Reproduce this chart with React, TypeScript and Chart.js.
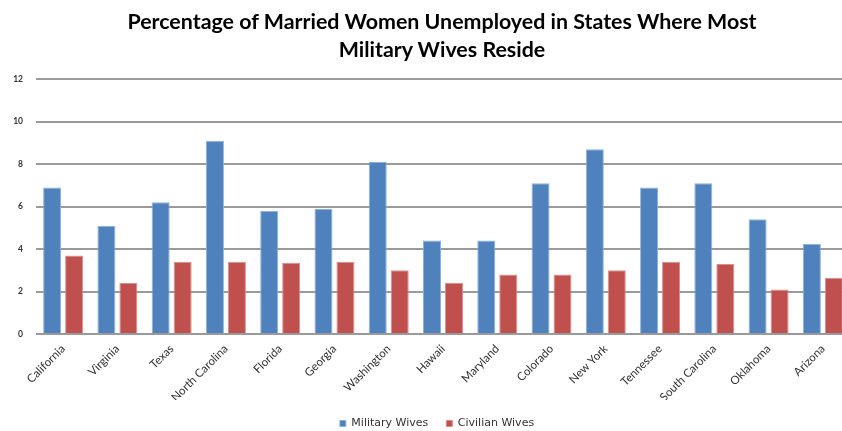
import React, { useEffect, useRef } from "react";
import { Chart, registerables } from "chart.js";

Chart.register(...registerables);

const TITLE_LINES = [
  "Percentage of Married Women Unemployed in States Where Most",
  "Military Wives Reside",
];

const STATES = [
  "California",
  "Virginia",
  "Texas",
  "North Carolina",
  "Florida",
  "Georgia",
  "Washington",
  "Hawaii",
  "Maryland",
  "Colorado",
  "New York",
  "Tennessee",
  "South Carolina",
  "Oklahoma",
  "Arizona",
];

const MILITARY_WIVES = [6.9, 5.1, 6.2, 9.1, 5.8, 5.9, 8.1, 4.4, 4.4, 7.1, 8.7, 6.9, 7.1, 5.4, 4.25];
const CIVILIAN_WIVES = [3.7, 2.4, 3.4, 3.4, 3.35, 3.4, 3.0, 2.4, 2.8, 2.8, 3.0, 3.4, 3.3, 2.1, 2.65];

const Y_MIN = 0;
const Y_MAX = 12;
const Y_STEP = 2;

const SERIES_NAMES = ["Military Wives", "Civilian Wives"];

const legendShift = {
  id: "legendShift",
  afterLayout(chart: any) {
    const l = chart.legend;
    if (l) {
      l.left += 12;
      l.right += 12;
    }
  },
};

export default function App() {
  const canvasRef = useRef<HTMLCanvasElement | null>(null);

  useEffect(() => {
    const canvas = canvasRef.current;
    if (!canvas) return;
    const chart = new Chart(canvas, {
      type: "bar",
      data: {
        labels: STATES,
        datasets: [
          {
            label: SERIES_NAMES[0],
            data: MILITARY_WIVES,
            backgroundColor: "#4F81BD",
            borderColor: "#8DB0DA",
            borderWidth: 1,
            categoryPercentage: 0.81,
            barPercentage: 0.82,
          },
          {
            label: SERIES_NAMES[1],
            data: CIVILIAN_WIVES,
            backgroundColor: "#C0504D",
            borderColor: "#DA8E8C",
            borderWidth: 1,
            categoryPercentage: 0.81,
            barPercentage: 0.82,
          },
        ],
      },
      plugins: [legendShift],
      options: {
        responsive: false,
        animation: false,
        devicePixelRatio: 1,
        layout: { padding: { top: 79, left: 0, right: 0, bottom: -8 } },
        plugins: {
          title: { display: false },
          tooltip: { enabled: false },
          legend: {
            display: true,
            position: "bottom",
            labels: {
              boxWidth: 6,
              boxHeight: 6,
              padding: 18,
              color: "#333333",
              font: { family: "DejaVu Sans", size: 11 },
            },
          },
        },
        scales: {
          x: {
            grid: { display: false, drawTicks: false },
            border: { display: false },
            ticks: {
              autoSkip: false,
              minRotation: 45,
              maxRotation: 45,
              padding: 8,
              color: "#2e2e2e",
              font: { family: "Lato", size: 11.5 },
            },
            afterFit: (scale: any) => {
              scale.height = 66;
            },
          },
          y: {
            min: Y_MIN,
            max: Y_MAX,
            grid: { color: "#9a9a9a", lineWidth: 2, drawTicks: false },
            border: { display: false },
            ticks: {
              stepSize: Y_STEP,
              padding: 13,
              color: "#333333",
              font: { family: "Lato", size: 8.5, weight: "bold" },
            },
            afterFit: (scale: any) => {
              scale.width = 36;
            },
          },
        },
      },
    });
    return () => chart.destroy();
  }, []);

  return (
    <div
      style={{
        position: "fixed",
        left: 0,
        top: 0,
        width: 842,
        height: 431,
        overflow: "hidden",
        background: "#ffffff",
      }}
    >
      <canvas
        ref={canvasRef}
        width={850}
        height={431}
        style={{ position: "absolute", left: 0, top: 0, width: 850, height: 431 }}
      />
      <div
        style={{
          position: "absolute",
          left: 92,
          top: 7,
          width: 700,
          textAlign: "center",
          fontFamily: "Lato, sans-serif",
          fontWeight: 700,
          fontSize: 21.4,
          lineHeight: "28px",
          color: "#000000",
        }}
      >
        {TITLE_LINES.map((t, i) => (
          <div key={i}>{t}</div>
        ))}
      </div>
    </div>
  );
}
